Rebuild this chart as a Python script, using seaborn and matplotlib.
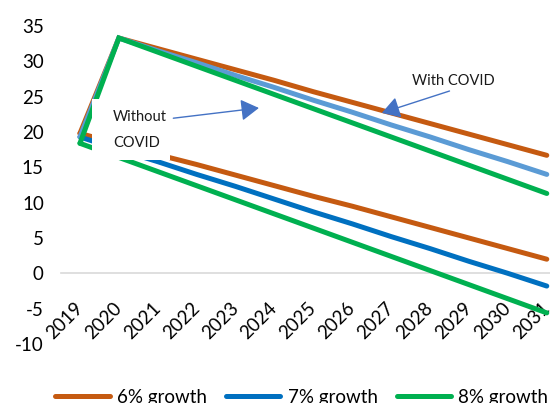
import pandas as pd
import matplotlib
matplotlib.use("Agg")
import matplotlib.pyplot as plt
from matplotlib.patches import Rectangle
import seaborn as sns

# valores
years = list(range(2019, 2032))
no_covid_6 = [19.8, 18.3, 16.8, 15.4, 13.9, 12.4, 10.9, 9.5, 8.0, 6.5, 5.0, 3.5, 2.0]
no_covid_7 = [19.3, 17.5, 15.8, 14.0, 12.3, 10.5, 8.7, 7.0, 5.2, 3.5, 1.7, 0.0, -1.8]
no_covid_8 = [18.4, 16.4, 14.4, 12.4, 10.4, 8.4, 6.4, 4.4, 2.4, 0.4, -1.6, -3.6, -5.6]
covid_6 = [19.8, 33.3, 31.8, 30.3, 28.8, 27.3, 25.7, 24.2, 22.7, 21.2, 19.7, 18.2, 16.7]
covid_7 = [19.3, 33.3, 31.5, 29.8, 28.0, 26.3, 24.5, 22.8, 21.0, 19.3, 17.5, 15.8, 14.0]
covid_8 = [18.4, 33.3, 31.3, 29.3, 27.3, 25.3, 23.3, 21.3, 19.3, 17.3, 15.3, 13.3, 11.3]
legend_labels = ["6% growth", "7% growth", "8% growth"]

series = {
    "6% sin": no_covid_6,
    "7% sin": no_covid_7,
    "8% sin": no_covid_8,
    "6% con": covid_6,
    "7% con": covid_7,
    "8% con": covid_8,
}
colors = ["#C55A11", "#0070C0", "#00B050", "#C55A11", "#5B9BD5", "#00B050"]

df = pd.concat(
    [pd.DataFrame({"year": years, "value": v, "series": k}) for k, v in series.items()],
    ignore_index=True,
)

plt.rcParams["font.family"] = ["Lato", "DejaVu Sans"]
plt.rcParams["axes.unicode_minus"] = False

fig = plt.figure(figsize=(5.5, 4.03), dpi=100)
ax = fig.add_axes([0.11, 0.1464, 0.9195, 0.7891])

sns.lineplot(
    data=df, x="year", y="value", hue="series",
    hue_order=list(series.keys()), palette=colors,
    linewidth=3.6, legend=False, ax=ax,
)
for line in ax.lines:
    line.set_solid_capstyle("round")
    line.set_solid_joinstyle("miter")

for s in ["top", "right", "left"]:
    ax.spines[s].set_visible(False)
ax.spines["bottom"].set_position(("data", 0))
ax.spines["bottom"].set_color("#D9D9D9")
ax.spines["bottom"].set_linewidth(1.2)
ax.spines["bottom"].set_zorder(0)

ax.set_xlim(2018.5, 2031.5)
ax.set_ylim(-10, 35)
ax.set_yticks(range(-10, 36, 5))
ax.set_xticks(years)
ax.set_xticklabels([str(y) for y in years])
ax.tick_params(axis="x", length=0, pad=23, labelsize=13.5)
ax.tick_params(axis="y", length=0, pad=12, labelsize=13.5)
plt.setp(ax.get_xticklabels(), rotation=45, ha="right", va="center",
         rotation_mode="anchor")
ax.set_xlabel("")
ax.set_ylabel("")

# anotaciones
ax.add_patch(Rectangle((2019.31, 16.0), 2.0, 8.6, fc="white", ec="none", zorder=4))
ax.text(2019.85, 20.3, "Without\n\nCOVID", fontsize=10.5, color="#1a1a1a",
        va="center", ha="left", linespacing=0.9, zorder=5)
ax.annotate("", xy=(2023.6, 23.4), xytext=(2021.4, 21.95),
            arrowprops=dict(arrowstyle="-|>,head_length=0.5,head_width=0.3",
                            color="#4472C4", lw=1, mutation_scale=22,
                            shrinkA=0, shrinkB=0), zorder=6)
ax.text(2028.6, 27.2, "With COVID", fontsize=10.5, color="#1a1a1a",
        va="center", ha="center", zorder=5)
ax.annotate("", xy=(2026.76, 22.7), xytext=(2028.5, 25.8),
            arrowprops=dict(arrowstyle="-|>,head_length=0.5,head_width=0.3",
                            color="#4472C4", lw=1, mutation_scale=22,
                            shrinkA=0, shrinkB=0), zorder=6)

fig.legend(ax.lines[:3], legend_labels, loc="center left",
           bbox_to_anchor=(0.07, 0.014), ncol=3, frameon=False, fontsize=13.5,
           handlelength=2.9, handletextpad=0.4, columnspacing=1.0)

fig.savefig("out.png", dpi=100)
